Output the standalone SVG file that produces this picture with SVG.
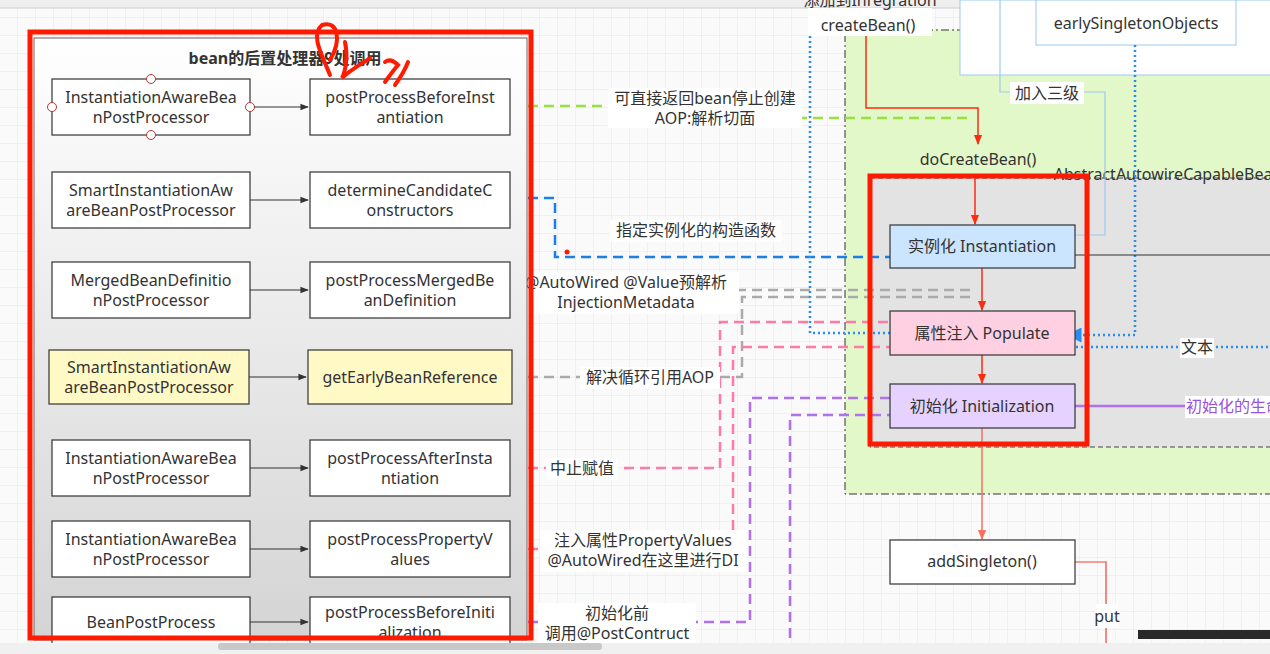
<svg xmlns="http://www.w3.org/2000/svg" width="1270" height="654" viewBox="0 0 1270 654">
<defs>
<pattern id="grid" width="18" height="18" patternUnits="userSpaceOnUse"><path d="M18 0V18H0" fill="none" stroke="#e6e6e6" stroke-width="1"/></pattern>
<linearGradient id="pg" x1="0" y1="0" x2="0" y2="1"><stop offset="0" stop-color="#ffffff"/><stop offset="1" stop-color="#d4d4d4"/></linearGradient>
<marker id="ab" viewBox="0 0 10 10" refX="9" refY="5" markerWidth="7" markerHeight="7" orient="auto"><path d="M0 1L10 5L0 9z" fill="#333"/></marker>
<marker id="ar" viewBox="0 0 10 10" refX="9" refY="5" markerWidth="7" markerHeight="7" orient="auto"><path d="M0 1L10 5L0 9z" fill="#ff2a10"/></marker>
<marker id="as" viewBox="0 0 10 10" refX="9" refY="5" markerWidth="7" markerHeight="7" orient="auto"><path d="M0 1L10 5L0 9z" fill="#f87060"/></marker>
<marker id="abl" viewBox="0 0 10 10" refX="9" refY="5" markerWidth="6" markerHeight="6" orient="auto"><path d="M0 0L10 5L0 10z" fill="#2a8cf0"/></marker>
</defs>
<style>
text{font-family:"Noto Sans","Noto Sans CJK SC",sans-serif;font-size:16px;fill:#333;text-anchor:middle}
.n{fill:#fff;stroke:#333;stroke-width:1.2}
.lb{fill:#fff}
.c{fill:none;stroke-width:2.5}
</style>
<rect width="1270" height="654" fill="#fafafa"/>
<rect width="1270" height="654" fill="url(#grid)"/>
<rect x="0" y="0" width="1270" height="8" fill="#efefef"/>
<line x1="0" y1="8" x2="1270" y2="8" stroke="#ccc"/>

<rect x="845" y="30" width="430" height="464" fill="#e2f8c8" stroke="#333" stroke-dasharray="8 3 2 3"/>
<rect x="960" y="0" width="320" height="75" fill="#fff" stroke="#9cc8f0"/>
<rect x="1036" y="0" width="200" height="45" fill="#fff" stroke="#9cc8f0"/>
<text x="1136" y="29">earlySingletonObjects</text>
<rect x="870" y="178" width="410" height="269" fill="#e3e3e3" stroke="#444" stroke-dasharray="5 3"/>
<text x="1168" y="180">AbstractAutowireCapableBean</text>

<g id="connectors">
<path class="c" d="M512 106H610" stroke="#99e040" stroke-dasharray="10 6"/>
<path class="c" d="M797 118H972" stroke="#99e040" stroke-dasharray="10 6"/>
<path class="c" d="M512 198H555V257H890" stroke="#1a7fe8" stroke-dasharray="10 6"/>
<path class="c" d="M512 290H972" stroke="#aaa" stroke-dasharray="10 6"/>
<path class="c" d="M512 377H742V297H972" stroke="#aaa" stroke-dasharray="10 6"/>
<path class="c" d="M512 468H720V322H890" stroke="#ff7aa8" stroke-dasharray="10 6"/>
<path class="c" d="M512 549H733V347H890" stroke="#ff7aa8" stroke-dasharray="10 6"/>
<path class="c" d="M512 622H750V398H890" stroke="#b070f0" stroke-dasharray="10 6"/>
<path class="c" d="M790 654V415H890" stroke="#b070f0" stroke-dasharray="10 6"/>
<path d="M810 36V333H890" fill="none" stroke="#2a8cf0" stroke-width="2.5" stroke-dasharray="2 3"/>
<path d="M1135 45V335H1068" fill="none" stroke="#2a8cf0" stroke-width="2.5" stroke-dasharray="2 3" marker-end="url(#abl)"/>
<path d="M1066 347H1270" fill="none" stroke="#2a8cf0" stroke-width="2.5" stroke-dasharray="2 3"/>
<path d="M1000 0V92H1105V235H1075" fill="none" stroke="#9cc8f0" stroke-width="1.2"/>
<path d="M866 36V108H978V144" fill="none" stroke="#ff2a10" stroke-width="1.5" marker-end="url(#ar)"/>
<path d="M975 178V224" fill="none" stroke="#ff2a10" stroke-width="1.5" marker-end="url(#ar)"/>
<path d="M982 268V310" fill="none" stroke="#ff2a10" stroke-width="1.5" marker-end="url(#ar)"/>
<path d="M982 355V383" fill="none" stroke="#ff2a10" stroke-width="1.5" marker-end="url(#ar)"/>
<path d="M982 428V539" fill="none" stroke="#f87060" stroke-width="1.5" marker-end="url(#as)"/>
<path d="M1075 562H1106V654" fill="none" stroke="#f04030" stroke-width="1.2"/>
<path d="M1075 255H1270" fill="none" stroke="#333" stroke-width="1.2"/>
<path d="M1075 406H1185" fill="none" stroke="#b070f0" stroke-width="2.5"/>
</g>

<rect class="lb" x="808" y="8" width="124" height="28"/>
<text x="870" y="6">添加到Inregration</text>
<text x="868" y="31">createBean()</text>
<rect class="lb" x="1010" y="82" width="74" height="22"/>
<text x="1047" y="99">加入三级</text>
<text x="978" y="165">doCreateBean()</text>
<rect class="lb" x="1180" y="338" width="34" height="20"/>
<text x="1197" y="353">文本</text>
<rect class="lb" x="1185" y="396" width="90" height="22"/>
<text x="1186" y="412" style="fill:#9a50e0;text-anchor:start">初始化的生命周期</text>
<rect class="lb" x="1096" y="604" width="22" height="24"/>
<text x="1107" y="622">put</text>

<rect class="lb" x="608" y="88" width="194" height="40"/>
<text x="705" y="104">可直接返回bean停止创建</text>
<text x="705" y="124">AOP:解析切面</text>
<rect class="lb" x="610" y="220" width="172" height="22"/>
<text x="696" y="236">指定实例化的构造函数</text>
<rect class="lb" x="515" y="272" width="224" height="42"/>
<text x="626" y="288">@AutoWired @Value预解析</text>
<text x="626" y="308">InjectionMetadata</text>
<rect class="lb" x="580" y="367" width="140" height="22"/>
<text x="650" y="383">解决循环引用AOP</text>
<rect class="lb" x="546" y="458" width="72" height="22"/>
<text x="582" y="474">中止赋值</text>
<rect class="lb" x="540" y="530" width="206" height="42"/>
<text x="643" y="546">注入属性PropertyValues</text>
<text x="643" y="566">@AutoWired在这里进行DI</text>
<rect class="lb" x="538" y="603" width="158" height="40"/>
<text x="617" y="619">初始化前</text>
<text x="617" y="639">调用@PostContruct</text>

<g id="inst"><rect x="890" y="225" width="185" height="43" fill="#cce5ff" stroke="#333" stroke-width="1.2"/><text x="982" y="252">实例化 Instantiation</text></g>
<g id="pop"><rect x="890" y="311" width="185" height="44" fill="#ffd0e2" stroke="#333" stroke-width="1.2"/><text x="982" y="339">属性注入 Populate</text></g>
<g id="init"><rect x="890" y="384" width="185" height="44" fill="#e5d2ff" stroke="#333" stroke-width="1.2"/><text x="982" y="412">初始化 Initialization</text></g>
<g id="adds"><rect class="n" x="890" y="540" width="185" height="44"/><text x="982" y="567">addSingleton()</text></g>
<rect x="870" y="176" width="217" height="268" fill="none" stroke="#ff1a00" stroke-width="5"/>

<rect x="34" y="38" width="493" height="602" fill="url(#pg)" stroke="#666"/>
<text x="285" y="64" style="font-weight:bold">bean的后置处理器9处调用</text>
<g id="l1"><rect class="n" x="52" y="79" width="198" height="56"/><text x="151" y="103">InstantiationAwareBea</text><text x="151" y="123">nPostProcessor</text>
<g fill="#fff" stroke="#b33" stroke-width="1"><circle cx="151" cy="79" r="4.5"/><circle cx="151" cy="135" r="4.5"/><circle cx="52" cy="107" r="4.5"/><circle cx="250" cy="107" r="4.5"/></g></g>
<g id="r1"><rect class="n" x="310" y="79" width="200" height="56"/><text x="410" y="103">postProcessBeforeInst</text><text x="410" y="123">antiation</text></g>
<g id="l2"><rect class="n" x="52" y="172" width="198" height="56"/><text x="151" y="196">SmartInstantiationAw</text><text x="151" y="216">areBeanPostProcessor</text></g>
<g id="r2"><rect class="n" x="310" y="172" width="200" height="56"/><text x="410" y="196">determineCandidateC</text><text x="410" y="216">onstructors</text></g>
<g id="l3"><rect class="n" x="52" y="262" width="198" height="56"/><text x="151" y="286">MergedBeanDefinitio</text><text x="151" y="306">nPostProcessor</text></g>
<g id="r3"><rect class="n" x="310" y="262" width="200" height="56"/><text x="410" y="286">postProcessMergedBe</text><text x="410" y="306">anDefinition</text></g>
<g id="l4"><rect x="49" y="350" width="200" height="54" fill="#fff9c6" stroke="#333" stroke-width="1.2"/><text x="149" y="373">SmartInstantiationAw</text><text x="149" y="393">areBeanPostProcessor</text></g>
<g id="r4"><rect x="308" y="350" width="204" height="54" fill="#fff9c6" stroke="#333" stroke-width="1.2"/><text x="410" y="383">getEarlyBeanReference</text></g>
<g id="l5"><rect class="n" x="52" y="440" width="198" height="56"/><text x="151" y="464">InstantiationAwareBea</text><text x="151" y="484">nPostProcessor</text></g>
<g id="r5"><rect class="n" x="310" y="440" width="200" height="56"/><text x="410" y="464">postProcessAfterInsta</text><text x="410" y="484">ntiation</text></g>
<g id="l6"><rect class="n" x="52" y="521" width="198" height="56"/><text x="151" y="545">InstantiationAwareBea</text><text x="151" y="565">nPostProcessor</text></g>
<g id="r6"><rect class="n" x="310" y="521" width="200" height="56"/><text x="410" y="545">postProcessPropertyV</text><text x="410" y="565">alues</text></g>
<g id="l7"><rect class="n" x="52" y="597" width="198" height="60"/><text x="151" y="628">BeanPostProcess</text></g>
<g id="r7"><rect class="n" x="310" y="597" width="200" height="60"/><text x="410" y="618">postProcessBeforeIniti</text><text x="410" y="638">alization</text></g>
<g id="leftarrows" stroke="#333" stroke-width="1.2" marker-end="url(#ab)">
<line x1="254" y1="107" x2="308" y2="107"/><line x1="250" y1="200" x2="308" y2="200"/><line x1="250" y1="290" x2="308" y2="290"/><line x1="249" y1="377" x2="306" y2="377"/><line x1="250" y1="468" x2="308" y2="468"/><line x1="250" y1="549" x2="308" y2="549"/><line x1="250" y1="622" x2="308" y2="622"/>
</g>
<rect x="30" y="32" width="501" height="606" fill="none" stroke="#ff1a00" stroke-width="5"/>
<path d="M330 75C322 55 310 35 322 25C338 20 342 40 330 60M345 42C348 55 346 70 342 78C350 70 365 62 370 58M385 62C390 58 395 62 398 65C392 72 388 78 385 82M408 62C405 70 400 78 395 85" fill="none" stroke="#ff1a00" stroke-width="4" stroke-linecap="round"/>
<circle cx="567" cy="252" r="2.5" fill="#ff1a00"/>
<rect x="0" y="643" width="1270" height="11" fill="#f0f0f0"/>
<rect x="218" y="643" width="384" height="7" rx="3" fill="#c8c8c8"/>
<rect x="1138" y="630" width="132" height="9" fill="#2a2a2a"/>
</svg>
